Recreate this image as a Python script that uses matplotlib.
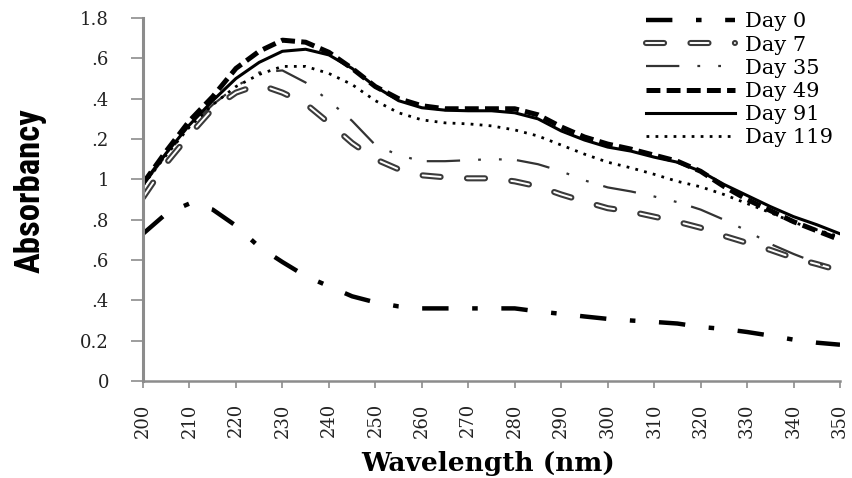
import matplotlib
matplotlib.use("Agg")
import matplotlib as mpl
import matplotlib.pyplot as plt
import matplotlib.patheffects as pe
from matplotlib import font_manager

# Dash lengths below are given in points, not in linewidths
mpl.rcParams['lines.scale_dashes'] = False
mpl.rcParams['font.family'] = 'DejaVu Serif'

wavelength = list(range(200, 351, 5))

day0 = [0.73, 0.83, 0.88, 0.85, 0.77, 0.665, 0.59, 0.52, 0.47, 0.42, 0.39,
        0.37, 0.36, 0.36, 0.36, 0.36, 0.36, 0.345, 0.333, 0.32, 0.308, 0.30,
        0.293, 0.285, 0.268, 0.258, 0.243, 0.225, 0.205, 0.19, 0.18]
day7 = [0.91, 1.08, 1.22, 1.35, 1.43, 1.47, 1.43, 1.375, 1.28, 1.18, 1.10,
        1.05, 1.02, 1.01, 1.005, 1.005, 0.99, 0.965, 0.925, 0.89, 0.857, 0.84,
        0.815, 0.79, 0.76, 0.72, 0.685, 0.65, 0.61, 0.58, 0.547]
day35 = [0.97, 1.12, 1.26, 1.37, 1.46, 1.53, 1.54, 1.48, 1.39, 1.29, 1.17,
         1.12, 1.09, 1.09, 1.095, 1.10, 1.097, 1.075, 1.04, 0.995, 0.96, 0.94,
         0.915, 0.887, 0.85, 0.80, 0.745, 0.68, 0.63, 0.585, 0.547]
day49 = [0.98, 1.14, 1.29, 1.41, 1.55, 1.635, 1.69, 1.68, 1.63, 1.55, 1.46,
         1.40, 1.365, 1.35, 1.35, 1.35, 1.35, 1.32, 1.26, 1.21, 1.175, 1.15,
         1.12, 1.09, 1.04, 0.965, 0.90, 0.845, 0.79, 0.745, 0.70]
day91 = [0.98, 1.13, 1.27, 1.39, 1.50, 1.58, 1.635, 1.645, 1.617, 1.55, 1.46,
         1.39, 1.355, 1.343, 1.34, 1.34, 1.33, 1.30, 1.24, 1.195, 1.16, 1.14,
         1.11, 1.085, 1.04, 0.975, 0.92, 0.865, 0.815, 0.775, 0.73]
day119 = [0.97, 1.12, 1.26, 1.37, 1.46, 1.52, 1.56, 1.56, 1.525, 1.47, 1.39,
          1.33, 1.295, 1.28, 1.275, 1.265, 1.245, 1.215, 1.17, 1.125, 1.085,
          1.057, 1.025, 0.99, 0.963, 0.925, 0.88, 0.835, 0.787, 0.75, 0.715]

x_ticks = list(range(200, 351, 10))
y_ticks = [0, 0.2, 0.4, 0.6, 0.8, 1.0, 1.2, 1.4, 1.6, 1.8]
y_tick_labels = ['0', '0.2', '.4', '.6', '.8', '1', '.2', '.4', '.6', '1.8']

# narrowest bold sans we can find for the y label
installed = {f.name for f in font_manager.fontManager.ttflist}
label_font = 'DejaVu Sans'
for name in ['Liberation Sans Narrow', 'Roboto Condensed', 'Open Sans Condensed',
             'Roboto', 'Inter']:
    if name in installed:
        label_font = name
        break

fig = plt.figure(figsize=(8.53, 4.78), dpi=100)
ax = fig.add_axes([143 / 853, 1 - 381 / 478, 697 / 853, 363 / 478])

ax.plot(wavelength, day0, color='black', lw=3.2, dashes=(19, 17, 4, 17),
        label='Day 0')
ax.plot(wavelength, day7, color='white', lw=1.4, dashes=(13, 19),
        dash_capstyle='round', label='Day 7',
        path_effects=[pe.Stroke(linewidth=4.4, foreground='#3a3a3a'), pe.Normal()])
ax.plot(wavelength, day35, color='#333333', lw=1.6,
        dashes=(24, 13, 2, 13, 2, 11), label='Day 35')
ax.plot(wavelength, day49, color='black', lw=3.6, dashes=(10, 4.5),
        label='Day 49')
ax.plot(wavelength, day91, color='black', lw=2.2, label='Day 91')
ax.plot(wavelength, day119, color='black', lw=2.0, dashes=(2, 4.5),
        label='Day 119')

ax.set_xlim(200, 350)
ax.set_ylim(0, 1.8)
ax.set_xticks(x_ticks)
ax.set_xticklabels([str(v) for v in x_ticks], rotation=90, fontsize=13)
ax.set_yticks(y_ticks)
ax.set_yticklabels(y_tick_labels, fontsize=13)

for side in ['top', 'right']:
    ax.spines[side].set_visible(False)
ax.spines['left'].set_color('#8c8c8c')
ax.spines['left'].set_linewidth(2.2)
ax.spines['bottom'].set_color('#8c8c8c')
ax.spines['bottom'].set_linewidth(1.8)
ax.tick_params(axis='y', colors='#8c8c8c', length=8.5, width=1.2, pad=16,
               labelcolor='#222222')
ax.tick_params(axis='x', colors='#8c8c8c', length=5, width=1.2, pad=11,
               labelcolor='#222222')

# axis titles at fixed figure positions
fig.text(488 / 853, 1 - 463 / 478, 'Wavelength (nm)', ha='center', va='center',
         fontsize=19, fontweight='bold')
fig.text(30 / 853, 1 - 191 / 478, 'Absorbancy', rotation=90, ha='center',
         va='center', fontsize=25, fontweight='bold', family=label_font)

ax.legend(loc='upper right', bbox_to_anchor=(843 / 853, 1 - 2 / 478),
          bbox_transform=fig.transFigure, frameon=False, fontsize=15,
          handlelength=4.3, handletextpad=0.45, labelspacing=0.2,
          borderpad=0)

fig.savefig('out.png', dpi=100)
